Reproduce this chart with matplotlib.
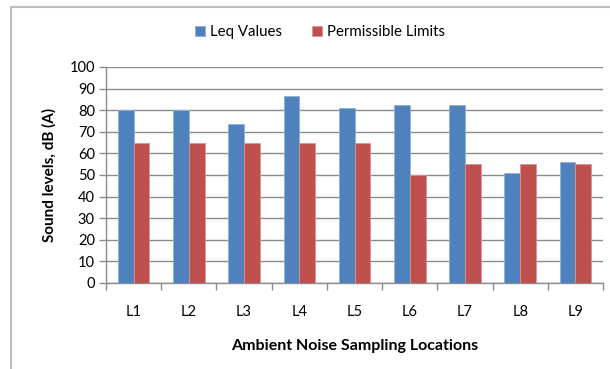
import numpy as np
import matplotlib.pyplot as plt
from matplotlib.patches import Rectangle

plt.rcParams['font.family'] = ['Lato', 'DejaVu Sans']

locations = ['L1', 'L2', 'L3', 'L4', 'L5', 'L6', 'L7', 'L8', 'L9']
leq_values = [80, 80, 73.5, 86.7, 80.8, 82.3, 82.3, 50.7, 56.2]
permissible = [65, 65, 65, 65, 65, 50, 55, 55, 55]

BLUE = '#4F81BD'
RED = '#C0504D'
GRID = '#8C8C8C'

fig = plt.figure(figsize=(6.10, 3.69), dpi=100)
ax = fig.add_axes([0.1738, 0.2331, 0.8148, 0.5854])

x = np.arange(len(locations))
w = 0.286
ax.bar(x - w / 2, leq_values, w, color=BLUE, edgecolor='#8FB0D9', linewidth=0.6,
       label='Leq Values', zorder=3)
ax.bar(x + w / 2, permissible, w, color=RED, edgecolor='#DA9593', linewidth=0.6,
       label='Permissible Limits', zorder=3)

ax.set_xlim(-0.5, len(locations) - 0.5)
ax.set_ylim(0, 100)
ax.set_yticks(range(0, 101, 10))
ax.yaxis.grid(True, color=GRID, linewidth=1.0, zorder=0)
ax.set_axisbelow(True)

# category labels in the middle, tick marks on the boundaries
ax.set_xticks(x)
ax.set_xticklabels(locations, fontsize=10.5)
ax.set_xticks(np.arange(-0.5, len(locations)), minor=True)
ax.tick_params(axis='x', which='major', length=0, pad=16)
ax.tick_params(axis='x', which='minor', length=5, color=GRID, width=1)
ax.tick_params(axis='y', length=5, color=GRID, width=1, labelsize=10.5, pad=3)

for s in ['top', 'right']:
    ax.spines[s].set_visible(False)
for s in ['left', 'bottom']:
    ax.spines[s].set_color(GRID)
    ax.spines[s].set_linewidth(1.0)

ax.set_ylabel('Sound levels, dB (A)', fontsize=11, fontweight='bold', labelpad=9)
ax.set_xlabel('Ambient Noise Sampling Locations', fontsize=11.5, fontweight='bold',
              labelpad=14)

fig.legend(loc='center', bbox_to_anchor=(0.524, 0.913), ncol=2, frameon=False,
           fontsize=10.8, handlelength=0.7, handleheight=0.7, handletextpad=0.3,
           columnspacing=2.0)

# outer chart frame, running off the right and bottom edges
fig.patches.append(Rectangle((10.5 / 610, -0.05), 1.0, 1 - 7.5 / 369 + 0.05,
                             transform=fig.transFigure, fill=False,
                             edgecolor='#BEBEBE', linewidth=1.5))

fig.savefig('out.png', dpi=100)
